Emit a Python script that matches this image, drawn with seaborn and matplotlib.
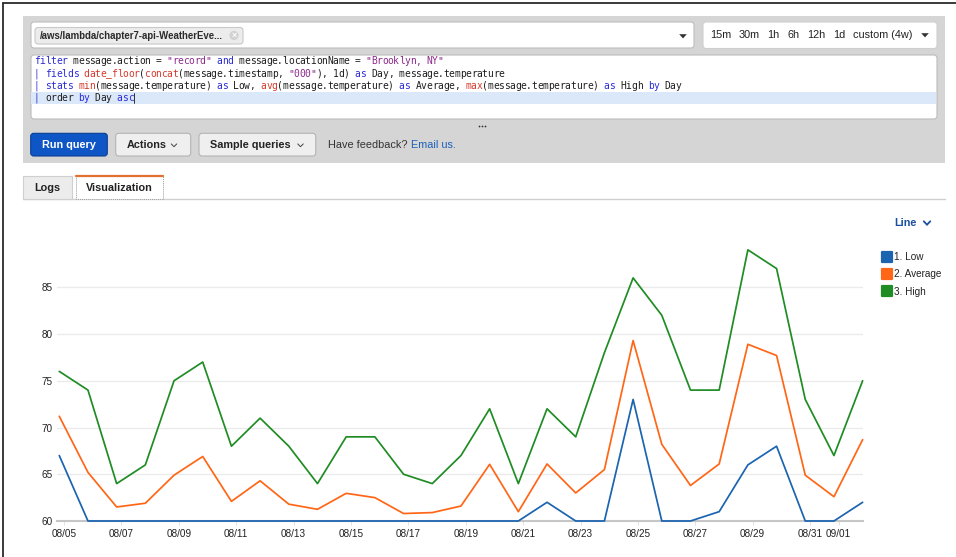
import matplotlib
matplotlib.use("Agg")
import matplotlib.pyplot as plt
from matplotlib.patches import FancyBboxPatch, Rectangle, Circle, Polygon
from matplotlib.lines import Line2D
from matplotlib.markers import MarkerStyle
import pandas as pd
import seaborn as sns

# ---- query results: daily Low / Average / High temperature, Brooklyn, NY ----
first_day = "2019-08-05"
series_names = ["1. Low", "2. Average", "3. High"]
low_temps = [67, 60, 60, 60, 60, 60, 60, 60, 60, 60, 60, 60, 60, 60, 60, 60,
             60, 62, 60, 60, 73, 60, 60, 61, 66, 68, 60, 60, 62]
avg_temps = [71.2, 65.2, 61.5, 61.9, 64.9, 66.9, 62.1, 64.3, 61.8, 61.25,
             62.96, 62.5, 60.8, 60.9, 61.6, 66.06, 61.0, 66.1, 63.0, 65.5,
             79.3, 68.2, 63.8, 66.1, 78.9, 77.7, 64.9, 62.6, 68.7]
high_temps = [76, 74, 64, 66, 75, 77, 68, 71, 68, 64, 69, 69, 65, 64, 67, 72,
              64, 72, 69, 78, 86, 82, 74, 74, 89, 87, 73, 67, 75]
x_tick_labels = ["08/05", "08/07", "08/09", "08/11", "08/13", "08/15", "08/17",
                 "08/19", "08/21", "08/23", "08/25", "08/27", "08/29", "08/31",
                 "09/01"]
y_ticks = [60, 65, 70, 75, 80, 85]
series_colors = ["#1a64b0", "#ff6616", "#1f8c24"]
time_ranges = ["15m", "30m", "1h", "6h", "12h", "1d", "custom (4w)"]

W, H = 956, 557
UI_FONT = "Liberation Sans"
CODE_FONT = "DejaVu Sans Mono"

sns.set_theme(style="white")
plt.rcParams["font.family"] = [UI_FONT, "DejaVu Sans"]

fig = plt.figure(figsize=(W / 100, H / 100), dpi=100, facecolor="white")
renderer = fig.canvas.get_renderer()

# overlay in pixel coordinates for the console chrome
ui = fig.add_axes([0, 0, 1, 1], zorder=0)
ui.set_xlim(0, W)
ui.set_ylim(H, 0)
ui.axis("off")


def rbox(x0, y0, x1, y1, fc, ec="none", r=3, lw=0.8, z=1, ls="-"):
    p = FancyBboxPatch((x0, y0), x1 - x0, y1 - y0,
                       boxstyle=f"round,pad=0,rounding_size={r}",
                       fc=fc, ec=ec, lw=lw, ls=ls, zorder=z)
    ui.add_patch(p)


def txt(x, y, s, size=7.8, color="#222222", weight="normal", ha="left",
        family=UI_FONT, z=5):
    return ui.text(x, y, s, fontsize=size, color=color, fontweight=weight,
                   ha=ha, va="center", family=family, zorder=z)


def chevron(xc, yc, w, h, color, lw=0.8):
    ui.plot([xc - w / 2, xc, xc + w / 2], [yc - h / 2, yc + h / 2, yc - h / 2],
            color=color, lw=lw, solid_capstyle="round",
            solid_joinstyle="miter", zorder=6)


def tri(xc, yc, color="#333333"):
    ui.add_patch(Polygon([[xc - 3.8, yc - 1.8], [xc + 3.8, yc - 1.8],
                          [xc, yc + 2.4]], closed=True, fc=color, ec="none",
                         zorder=6))


# screenshot frame
ui.plot([3, 3], [3, H], color="#2b2b2b", lw=1.3, zorder=9)
ui.plot([3, W], [3, 3], color="#2b2b2b", lw=1.3, zorder=9)

# gray query panel
ui.add_patch(Rectangle((23, 16), 922, 147, fc="#d5d5d5", ec="none", zorder=0.5))

# log-group selector
rbox(31, 22, 694, 48, "white", "#bdbdbd", r=3)
rbox(35, 27.5, 243, 44, "#ececec", "#c9c9c9", r=3, z=2)
txt(39.5, 36, "/aws/lambda/chapter7-api-WeatherEve...", size=6.95,
    weight="bold", color="#2a2a2a")
ui.add_patch(Circle((234, 35.5), 4.6, fc="#d2d2d2", ec="none", zorder=3))
txt(234, 35.3, "×", size=6.5, color="white", ha="center", weight="bold")
tri(683, 36)

# time-range picker, items laid out left to right
rbox(703, 22, 937, 48.5, "white", "#cfcfcf", r=3)
xp = 710
for label in time_ranges:
    t = txt(xp, 35, label, size=7.8, color="#222222")
    xp = t.get_window_extent(renderer).x1 + 7.6
tri(925, 35)

# query editor
rbox(31, 55, 937, 119, "white", "#bcbcbd", r=3)
ui.add_patch(Rectangle((31.5, 91.5), 905, 12.3, fc="#dbe8fa", ec="none", zorder=2))

KW, FN, ST, TX = "#2b2bd6", "#d83a2c", "#8d2a8d", "#1e1e1e"
code_lines = [
    [("filter", KW), (" message.action = ", TX), ('"record"', ST), (" ", TX),
     ("and", KW), (" message.locationName = ", TX), ('"Brooklyn, NY"', ST)],
    [("| ", KW), ("fields", KW), (" ", TX), ("date_floor", FN), ("(", TX),
     ("concat", FN), ("(message.timestamp, ", TX), ('"000"', ST),
     ("), 1d) ", TX), ("as", KW), (" Day, message.temperature", TX)],
    [("| ", KW), ("stats", KW), (" ", TX), ("min", FN),
     ("(message.temperature) ", TX), ("as", KW), (" Low, ", TX), ("avg", FN),
     ("(message.temperature) ", TX), ("as", KW), (" Average, ", TX),
     ("max", FN), ("(message.temperature) ", TX), ("as", KW), (" High ", TX),
     ("by", KW), (" Day", TX)],
    [("| ", KW), ("order ", TX), ("by", KW), (" Day ", TX), ("asc", KW)],
]
char_w = 5.53
code_size = 6.95
code_x0 = 34
for row, segs in enumerate(code_lines):
    yline = 61.5 + row * 12.2
    col = 0
    for s, c in segs:
        for ch in s:
            if ch != " ":
                txt(code_x0 + (col + 0.5) * char_w, yline, ch, size=code_size,
                    color=c, family=CODE_FONT, ha="center")
            col += 1
    if row == 3:
        cx = code_x0 + col * char_w + 0.8
        ui.plot([cx, cx], [92.5, 103], color="#111111", lw=0.6, zorder=6)

# resize handle
ui.scatter([479, 482, 485], [125.8] * 3, s=1.6, color="#333333", lw=0, zorder=6)

# buttons
rbox(30.7, 133.3, 107.3, 156, "#0e55c6", "#0a3e94", r=3, lw=0.8)
txt(69, 145, "Run query", size=7.8, weight="bold", color="white", ha="center")
rbox(115.7, 133.3, 190.7, 156, "#efefef", "#b4b4b4", r=3, lw=0.8)
txt(126.5, 145, "Actions", size=7.8, weight="bold", color="#232323")
chevron(174, 145.3, 5.5, 2.8, "#444444", lw=0.7)
rbox(199, 133.3, 315.7, 156, "#efefef", "#b4b4b4", r=3, lw=0.8)
txt(210.5, 145, "Sample queries", size=7.8, weight="bold", color="#232323")
chevron(300.5, 145.3, 5.5, 2.8, "#444444", lw=0.7)
txt(328.5, 145, "Have feedback?", size=7.8, color="#333333")
txt(411.5, 145, "Email us.", size=7.8, color="#1b60b8")

# tabs
ui.plot([23, 945], [198.5, 198.5], color="#cfcfcf", lw=1.0, zorder=1)
ui.add_patch(Rectangle((23.3, 175.5), 49, 23, fc="#ececec", ec="#cfcfcf",
                       lw=0.8, zorder=2))
txt(47.8, 188, "Logs", size=7.8, weight="bold", color="#222222", ha="center")
ui.add_patch(Rectangle((76, 175.5), 87.3, 23.5, fc="white", ec="#9a9a9a",
                       lw=0.7, ls=(0, (1, 1)), zorder=2))
ui.plot([76, 163.3], [175.6, 175.6], color="#e0722e", lw=1.6, zorder=3)
txt(119.7, 188, "Visualization", size=7.8, weight="bold", color="#222222",
    ha="center")

# chart type selector
txt(894, 222.7, "Line", size=7.8, weight="bold", color="#1b4f9f")
chevron(927, 223, 6.5, 3.4, "#1b4f9f", lw=1.3)

# ---- the line chart ----
days = pd.date_range(first_day, periods=len(low_temps), freq="D")
df = pd.concat([
    pd.DataFrame({"Day": days, "Temperature": vals, "Series": name})
    for name, vals in zip(series_names, [low_temps, avg_temps, high_temps])
], ignore_index=True)
palette = dict(zip(series_names, series_colors))

px_left, px_right, px_bottom = 57, 863, 521
px_per_unit = 9.35
y_top_val = 90
px_top = px_bottom - (y_top_val - y_ticks[0]) * px_per_unit
ax = fig.add_axes([px_left / W, (H - px_bottom) / H,
                   (px_right - px_left) / W, (px_bottom - px_top) / H],
                  zorder=2)
ax.patch.set_alpha(0)

sns.lineplot(data=df, x="Day", y="Temperature", hue="Series",
             hue_order=series_names, palette=palette, linewidth=1.25,
             legend=False, ax=ax)
for ln in ax.lines:
    ln.set_zorder(3)
    ln.set_clip_on(False)

# day buckets are UTC midnights; axis labels mark local (UTC-4) midnights
tick_pos = [pd.Timestamp("2019/" + t) + pd.Timedelta(hours=4)
            for t in x_tick_labels]
ax.set_xticks(tick_pos)
ax.set_xticklabels(x_tick_labels)
ax.set_xlim(days[0] - pd.Timedelta(hours=1.9), days[-1] + pd.Timedelta(hours=0.3))
ax.set_ylim(y_ticks[0], y_top_val)
ax.set_yticks(y_ticks)
ax.set_yticklabels([str(v) for v in y_ticks])
ax.set_xlabel("")
ax.set_ylabel("")
ax.grid(axis="y", color="#ebebeb", lw=1.0)
ax.grid(axis="x", visible=False)
for side in ["top", "right", "left"]:
    ax.spines[side].set_visible(False)
ax.spines["bottom"].set_color("#c6c6c6")
ax.spines["bottom"].set_linewidth(1.5)
ax.tick_params(axis="y", length=0, pad=3.2, labelsize=7.2, labelcolor="#222222")
ax.tick_params(axis="x", length=3, width=0.6, color="#dddddd", pad=3,
               labelsize=7.2, labelcolor="#222222", bottom=True)

handles = [Line2D([], [], ls="none",
                  marker=MarkerStyle("s", joinstyle="round"), markersize=6.6,
                  mfc=c, mec=c, mew=1.6) for c in series_colors]
fig.legend(handles, series_names, loc="upper left",
           bbox_to_anchor=(882.5 / W, 1 - 252.0 / H), frameon=False,
           fontsize=7.2, handlelength=0.9, handletextpad=0.3, labelspacing=0.74,
           borderpad=0, borderaxespad=0, labelcolor="#222222")

fig.savefig("out.png", dpi=100, facecolor="white")
